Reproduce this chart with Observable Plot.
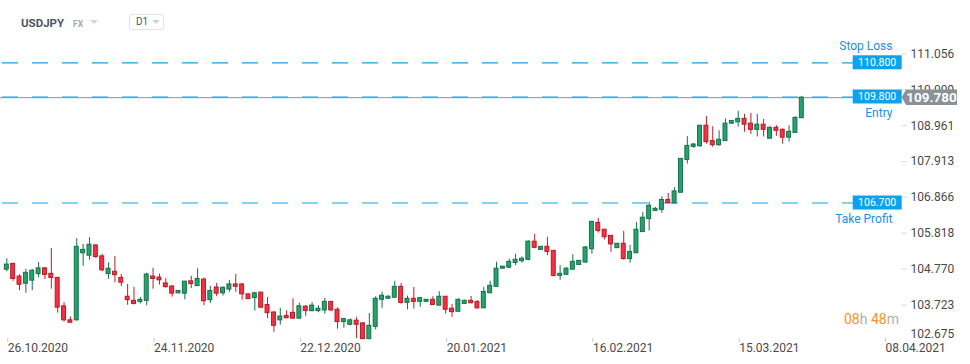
<!DOCTYPE html>
<html><head><meta charset="utf-8">
<script src="https://cdn.jsdelivr.net/npm/d3@7"></script>
<script src="https://cdn.jsdelivr.net/npm/@observablehq/plot@0.6"></script>
<style>
html,body{margin:0;padding:0;background:#fff;}
#wrap{position:relative;width:970px;height:364px;overflow:hidden;font-family:Roboto,"Noto Sans",sans-serif;}
#wrap svg{display:block;position:absolute;left:0;top:0;}
.h{position:absolute;white-space:nowrap;}
</style></head><body><div id="wrap"></div>
<script>
// ---- data (USDJPY, D1) ----
const opens = [104.75,104.92,104.55,104.34,104.43,104.62,104.79,104.63,104.51,103.68,103.27,103.27,105.23,105.16,105.46,105.14,104.62,104.69,104.51,103.96,103.84,103.81,103.84,104.55,104.52,104.35,104.26,104.06,104.05,104.41,104.27,104.46,103.86,104.23,104.06,104.17,104.32,104.32,104.03,103.92,104.08,103.72,103.50,103.27,103.40,103.49,103.32,103.67,103.54,103.54,103.56,103.81,103.58,103.22,103.14,103.26,103.18,102.72,103.08,103.87,103.90,103.93,104.25,103.78,103.90,103.81,103.81,103.87,103.70,103.96,103.61,103.52,103.75,103.84,103.81,103.62,104.06,104.25,104.78,104.81,104.95,105.00,105.04,105.57,105.33,105.42,105.30,104.57,104.60,104.75,104.89,104.96,105.35,106.12,105.92,105.74,105.38,105.51,105.06,105.23,105.85,106.23,106.47,106.50,106.79,106.69,107.00,107.96,108.34,108.36,108.96,108.51,108.39,108.51,109.02,109.06,109.16,109.02,108.84,108.99,108.58,108.90,108.84,108.61,108.75,109.18];
const highs = [105.07,104.94,104.60,104.76,104.76,104.96,104.81,105.37,104.53,103.79,103.37,105.66,105.49,105.69,105.48,105.20,104.95,105.14,104.61,104.32,104.23,103.94,104.65,104.79,104.62,104.49,104.28,104.14,104.41,104.56,104.78,104.51,104.26,104.35,104.25,104.44,104.61,104.34,104.03,104.09,104.09,103.94,103.52,103.62,103.55,103.90,103.77,103.70,103.79,103.70,103.91,103.82,103.63,103.31,103.31,103.35,103.21,103.47,103.96,104.10,103.99,104.41,104.35,103.98,104.23,103.94,103.88,103.96,104.11,103.96,103.73,103.90,103.86,103.97,103.84,104.23,104.41,104.97,104.84,105.06,105.20,105.13,105.60,105.78,105.42,105.70,105.32,104.87,104.81,105.19,105.02,105.43,106.15,106.25,105.92,105.74,105.51,105.87,105.46,106.13,106.42,106.72,106.57,106.88,106.98,107.15,107.99,108.64,108.44,108.96,109.23,108.93,108.81,109.16,109.11,109.38,109.29,109.32,109.29,109.14,108.93,108.96,108.87,108.96,109.22,109.82];
const lows = [104.69,104.41,104.14,104.06,104.14,104.52,104.46,104.18,103.48,103.22,103.20,103.25,104.85,105.03,105.08,104.69,104.47,104.37,104.26,103.71,103.72,103.75,103.70,104.18,104.30,104.21,103.95,104.05,103.87,104.20,104.27,103.70,103.76,103.96,103.98,104.09,104.09,103.86,103.89,103.54,103.63,103.32,102.92,103.13,103.32,103.30,103.30,103.39,103.52,103.49,103.45,103.52,103.01,103.04,103.11,102.74,102.72,102.72,102.99,103.62,103.89,103.93,103.74,103.58,103.60,103.65,103.80,103.71,103.70,103.46,103.36,103.52,103.74,103.75,103.60,103.62,104.06,104.25,104.77,104.78,104.87,104.94,105.01,105.36,105.33,105.16,104.54,104.44,104.59,104.75,104.88,104.94,105.20,105.82,105.62,105.26,105.37,105.03,104.94,105.23,105.85,105.88,106.46,106.40,106.70,106.69,107.00,107.84,108.30,108.33,108.42,108.33,108.36,108.51,109.01,108.92,108.77,108.71,108.63,108.63,108.58,108.65,108.42,108.48,108.75,109.17];
const closes = [104.90,104.48,104.31,104.66,104.72,104.79,104.60,104.51,103.64,103.27,103.20,105.42,105.33,105.48,105.12,104.73,104.78,104.59,104.37,103.86,103.75,103.87,104.61,104.48,104.44,104.24,104.05,104.13,104.40,104.33,104.48,103.83,104.13,104.05,104.22,104.32,104.25,104.03,103.89,104.06,103.64,103.48,103.11,103.38,103.33,103.32,103.68,103.54,103.70,103.61,103.81,103.56,103.22,103.31,103.27,103.14,102.72,103.11,103.90,103.99,103.96,104.25,103.78,103.90,103.81,103.92,103.87,103.72,103.96,103.58,103.51,103.87,103.84,103.77,103.62,104.10,104.28,104.78,104.84,104.98,105.04,105.07,105.57,105.39,105.42,105.27,104.57,104.63,104.78,104.98,105.01,105.40,106.15,105.88,105.70,105.49,105.51,105.06,105.27,105.92,106.27,106.62,106.53,106.79,106.70,107.04,107.99,108.37,108.41,108.96,108.48,108.39,108.55,109.02,109.10,109.16,108.99,108.84,108.99,108.84,108.90,108.81,108.61,108.78,109.19,109.78];
const dateTickIndex = [0, 23, 46, 69, 92, 115, 138];
const dateTickLabels = ["26.10.2020","24.11.2020","22.12.2020","20.01.2021","16.02.2021","15.03.2021","08.04.2021"];
const priceTicks = [111.056, 110.009, 108.961, 107.913, 106.866, 105.818, 104.770, 103.723];
const bottomPriceTick = 102.675;
const levelNames = ["Stop Loss", "Entry", "Take Profit"];
const levelValues = [110.8, 109.8, 106.7];
const lastPrice = 109.78;
const slotCount = 141;

// ---- build ----
const candles = opens.map((o, i) => ({i, open: o, high: highs[i], low: lows[i], close: closes[i], up: closes[i] >= o}));
const levels = levelNames.map((name, k) => ({name, value: levelValues[k]}));
const slots = d3.range(slotCount);
const GREEN = "#23a46d", GREEN_S = "#16704a", RED = "#f5303f", RED_S = "#b41d2a";
const BLUE = "#0ba3ef", BLUE_T = "#1b8fe6";

const chart = Plot.plot({
  width: 970, height: 364,
  marginLeft: 0, marginRight: 70, marginTop: 30, marginBottom: 26,
  style: {fontFamily: "Roboto, sans-serif", fontSize: "12px", background: "#fff", color: "#4a4a4a", overflow: "visible"},
  x: {type: "band", domain: slots, paddingInner: 0, paddingOuter: 0.2547, align: 0.963},
  y: {domain: [102.739, 111.744]},
  marks: [
    Plot.ruleY([lastPrice], {stroke: "#8c9399", strokeWidth: 1}),
    Plot.ruleY(levels, {y: "value", stroke: BLUE, strokeWidth: 1.2, strokeDasharray: "16,14", strokeDashoffset: 28}),
    Plot.ruleX(candles, {x: "i", y1: "low", y2: "high", stroke: d => d.up ? GREEN_S : RED_S, strokeWidth: 1}),
    Plot.barY(candles, {x: "i", y1: "open", y2: "close", fill: d => d.up ? GREEN : RED, stroke: d => d.up ? GREEN_S : RED_S, strokeWidth: 1, insetLeft: 1.2, insetRight: 1.2}),
    Plot.axisX({ticks: dateTickIndex, tickFormat: i => dateTickLabels[dateTickIndex.indexOf(i)], textAnchor: "start", tickSize: 4, tickPadding: 1, dx: 1, fontSize: 12, stroke: "#c8c8c8", fill: "#4a4a4a", label: null}),
    Plot.axisY({anchor: "right", ticks: priceTicks, tickFormat: d => d.toFixed(3), tickSize: 6, tickPadding: 4, fontSize: 12, stroke: "#dddddd", fill: "#4a4a4a", label: null}),
    Plot.text([bottomPriceTick], {y: d => d, text: d => d.toFixed(3), frameAnchor: "right", textAnchor: "start", dx: 10, dy: -7, fill: "#4a4a4a", fontSize: 12}),
    Plot.text(levels.filter(d => d.name === "Stop Loss"), {y: "value", text: "name", frameAnchor: "right", textAnchor: "end", dx: -8, dy: -17, fill: BLUE_T, fontSize: 12}),
    Plot.text(levels.filter(d => d.name !== "Stop Loss"), {y: "value", text: "name", frameAnchor: "right", textAnchor: "end", dx: -8, dy: 16, fill: BLUE_T, fontSize: 12})
  ]
});

const wrap = document.getElementById("wrap");
wrap.appendChild(chart);
const svg = d3.select(chart);
const yS = chart.scale("y");
const right = chart.scale("x").range[1];

// level boxes
levels.forEach(l => {
  const y = yS.apply(l.value);
  svg.append("rect").attr("x", right - 47.3).attr("y", y - 7).attr("width", 49).attr("height", 14).attr("fill", BLUE);
  svg.append("text").attr("x", right - 22.8).attr("y", y).attr("dy", "0.36em").attr("text-anchor", "middle")
    .attr("fill", "#fff").attr("font-size", 10.5).attr("font-family", "Roboto, sans-serif").text(l.value.toFixed(3));
});
// last price marker
const yp = yS.apply(lastPrice);
svg.append("path").attr("d", `M${right + 1.7},${yp} L${right + 6},${yp - 7.7} H${right + 57} V${yp + 7.7} H${right + 6} Z`).attr("fill", "#8a9197");
svg.append("text").attr("x", right + 31.5).attr("y", yp).attr("dy", "0.36em").attr("text-anchor", "middle")
  .attr("fill", "#fff").attr("font-size", 13.5).attr("font-weight", "bold").attr("font-family", "Roboto, sans-serif").text(lastPrice.toFixed(3));
// countdown
const cd = svg.append("text").attr("x", right - 56).attr("y", 324).attr("text-anchor", "start").attr("font-size", 14).attr("font-family", "Roboto, sans-serif");
cd.append("tspan").attr("fill", "#f7931e").text("08");
cd.append("tspan").attr("fill", "#b0b0b0").text("h ");
cd.append("tspan").attr("fill", "#f7931e").text("48");
cd.append("tspan").attr("fill", "#b0b0b0").text("m");

// header
function add(html, css) { const d = document.createElement("div"); d.className = "h"; d.style.cssText = css; d.innerHTML = html; wrap.appendChild(d); return d; }
add("USDJPY", "left:21px;top:16px;font-size:11.5px;font-weight:bold;color:#4b5563;");
add("FX", "left:73px;top:19px;font-size:8.5px;font-weight:bold;color:#9aabb9;");
add("", "left:90px;top:20px;width:0;height:0;border-left:4px solid transparent;border-right:4px solid transparent;border-top:4px solid #d3d3d3;");
add("", "left:129px;top:14px;width:35px;height:16px;border:1px solid #e3e3e3;border-radius:3px;box-sizing:border-box;");
add("D1", "left:136px;top:16px;font-size:10px;color:#555;");
add("", "left:152px;top:20px;width:0;height:0;border-left:4px solid transparent;border-right:4px solid transparent;border-top:4px solid #d3d3d3;");
</script></body></html>
